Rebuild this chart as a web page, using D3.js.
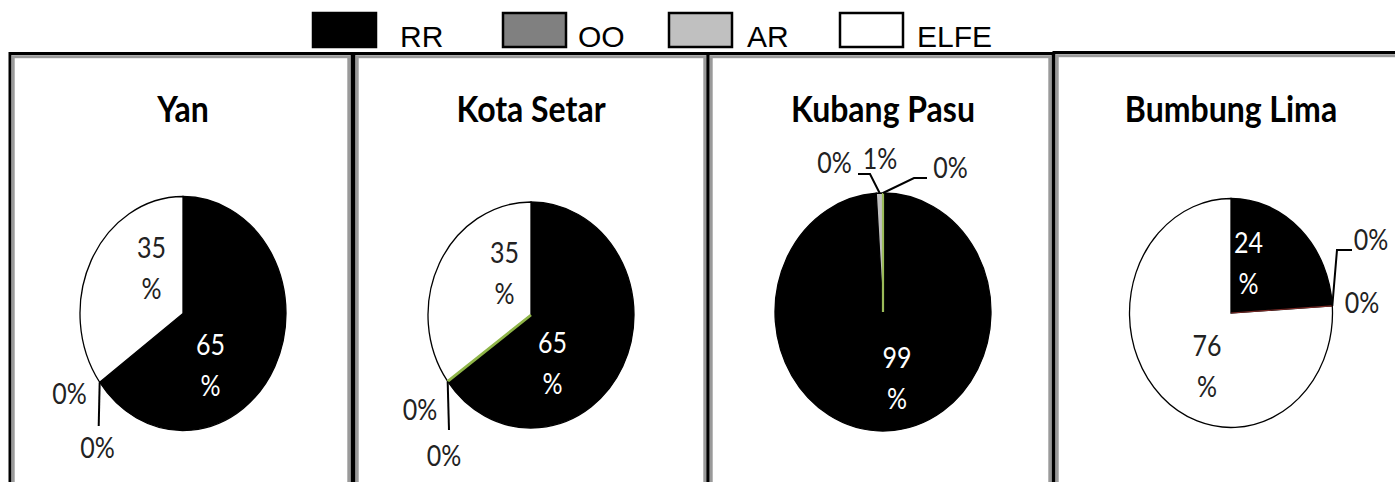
<!DOCTYPE html>
<html lang="en">
<meta charset="utf-8">
<script src="https://d3js.org/d3.v7.min.js"></script>
<style>
    body { margin: 0; background: #fff; }
    .title { font: bold 32px Lato, sans-serif; fill: #000; }
    .lbl { font: 25px Lato, sans-serif; }
    .legend text { font: 30px "Liberation Sans", Arial, sans-serif; }
</style>
<svg id="base" width="1395" height="482"></svg>

<script>
    // data (percent of each district)
    var categories = ["RR", "OO", "AR", "ELFE"];
    var districts = ["Yan", "Kota Setar", "Kubang Pasu", "Bumbung Lima"];
    var yan = [65, 0, 0, 35];
    var kotaSetar = [65, 0, 0, 35];
    var kubangPasu = [99, 0, 1, 0];
    var bumbungLima = [24, 0, 0, 76];
    var shares = [yan, kotaSetar, kubangPasu, bumbungLima];

    var color = d3.scaleOrdinal()
        .domain(categories)
        .range(["#000000", "#808080", "#c0c0c0", "#ffffff"]);

    var svg = d3.select("#base");
    var stretch = 1.14; // the original picture is squeezed a bit in x

    // legend
    var legendX = [313, 503, 669, 840];
    var legendTextX = [400, 578, 747, 917];
    var legend = svg.append("g").attr("class", "legend");
    legend.selectAll("rect")
        .data(categories)
        .enter()
        .append("rect")
        .attr("x", function (d, i) { return legendX[i]; })
        .attr("y", 13)
        .attr("width", 63)
        .attr("height", 34)
        .attr("fill", function (d) { return color(d); })
        .attr("stroke", "#000")
        .attr("stroke-width", 2.5);
    legend.selectAll("text")
        .data(categories)
        .enter()
        .append("text")
        .attr("x", function (d, i) { return legendTextX[i]; })
        .attr("y", 47)
        .text(function (d) { return d; });

    // panel frames
    var panelEdges = [[10, 352], [354, 708], [708, 1053], [1054, 1400]];
    var panelTop = [53.5, 53.5, 53.5, 52.5];
    panelEdges.forEach(function (p, i) {
        svg.append("rect")
            .attr("x", p[0]).attr("y", panelTop[i])
            .attr("width", p[1] - p[0]).attr("height", 480)
            .attr("fill", "none").attr("stroke", "#000").attr("stroke-width", 3);
        svg.append("rect")
            .attr("x", p[0] + 3.2).attr("y", panelTop[i] + 3.2)
            .attr("width", p[1] - p[0] - 6.4).attr("height", 480)
            .attr("fill", "none").attr("stroke", "#9a9a9a").attr("stroke-width", 3);
    });

    // pie layout: centre, radius, label offsets (from centre), leader elbows
    var pieLayout = [
        {cx: 183, cy: 313.5, r: 103, k: 117 / 103, edge: null, edgeSlice: -1, edgeW: 0,
         labels: [[27.5, 41.5], [-113.5, 90.5], [-85.5, 144.5], [-31.5, -55.5]],
         leaders: [{slice: 2, pts: [[-84.3, 112.5]]}]},
        {cx: 531, cy: 315, r: 103, k: 113 / 103, edge: "#8fb548", edgeSlice: 2, edgeW: 2.8,
         labels: [[21.5, 38], [-111, 105], [-87, 151], [-26.5, -52.3]],
         leaders: [{slice: 2, pts: [[-82, 115]]}]},
        {cx: 883, cy: 312, r: 108, k: 119 / 108, edge: "#9bbb59", edgeSlice: 3, edgeW: 2.2,
         labels: [[14, 56], [-48.5, -139], [-3, -143], [67.5, -134]],
         leaders: [{slice: 2, pts: [[-13, -138], [-25, -138]]},
                   {slice: 3, pts: [[31, -134], [44, -134]]}]},
        {cx: 1231, cy: 313, r: 101.5, k: 114.5 / 101.5, edge: "#7a2a26", edgeSlice: 1, edgeW: 1.2,
         labels: [[17.5, -60], [140, -63], [131, 0], [-24, 43]],
         leaders: [{slice: 1, pts: [[106, -63], [121, -63]]}]}
    ];

    var pie = d3.pie().sort(null).value(function (d) { return d; });

    shares.forEach(function (values, i) {
        var L = pieLayout[i];
        var arcs = pie(values);
        var arc = d3.arc().innerRadius(0).outerRadius(L.r);

        svg.append("text")
            .attr("class", "title")
            .attr("text-anchor", "middle")
            .attr("transform", "translate(" + L.cx + ",122) scale(1," + stretch + ")")
            .text(districts[i]);

        var g = svg.append("g")
            .attr("transform", "translate(" + L.cx + "," + L.cy + ") scale(1," + L.k + ")");

        g.selectAll("path")
            .data(arcs)
            .enter()
            .append("path")
            .attr("d", arc)
            .attr("fill", function (d, j) { return color(categories[j]); })
            .attr("stroke", function (d, j) {
                return j === L.edgeSlice ? L.edge : "#000";
            })
            .attr("stroke-width", function (d, j) {
                return j === L.edgeSlice ? L.edgeW : 1.3;
            })
            .attr("vector-effect", "non-scaling-stroke")
            .filter(function (d, j) { return j === L.edgeSlice; })
            .raise();

        // leader lines from slice edge to label
        L.leaders.forEach(function (ld) {
            var a = arcs[ld.slice];
            var mid = (a.startAngle + a.endAngle) / 2;
            var start = [L.r * Math.sin(mid), -L.r * Math.cos(mid) * L.k];
            var pts = [start].concat(ld.pts).map(function (p) {
                return [L.cx + p[0], L.cy + p[1]];
            });
            svg.append("path")
                .attr("d", d3.line()(pts))
                .attr("fill", "none")
                .attr("stroke", "#000")
                .attr("stroke-width", 2);
        });

        // percent labels
        arcs.forEach(function (a, j) {
            var pos = L.labels[j];
            var inBlack = a.value >= 10 && categories[j] === "RR";
            var t = svg.append("text")
                .attr("class", "lbl")
                .attr("text-anchor", "middle")
                .attr("fill", inBlack ? "#fff" : "#222")
                .attr("transform", "translate(" + (L.cx + pos[0]) + "," + (L.cy + pos[1]) +
                    ") scale(1," + stretch + ")");
            if (a.value >= 10) {
                t.append("tspan").attr("x", 0).attr("y", 0).text(a.value);
                t.append("tspan").attr("x", 0).attr("y", 41 / stretch).text("%");
            } else {
                t.text(a.value + "%");
            }
        });
    });
</script>
</html>
